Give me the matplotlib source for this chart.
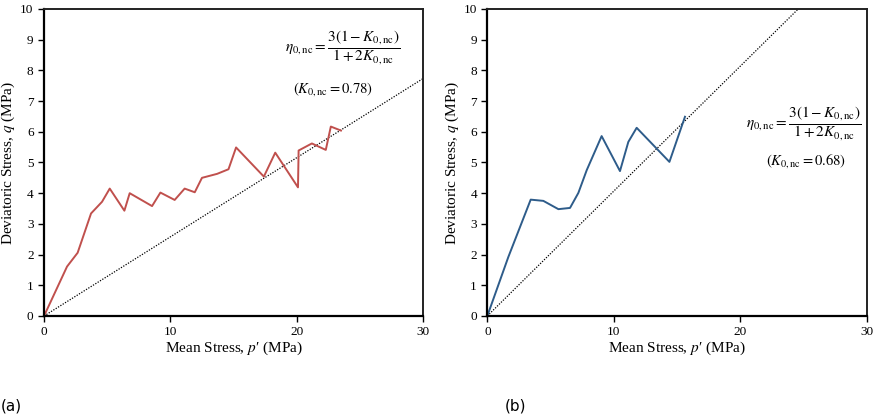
import matplotlib
matplotlib.use("Agg")
import matplotlib.pyplot as plt

plt.rcParams['font.family'] = ['Liberation Serif', 'DejaVu Serif']
plt.rcParams['mathtext.fontset'] = 'stix'

# (a) red path, K0,nc = 0.78
p_a = [0, 1.82, 2.66, 3.72, 4.59, 5.2, 6.36, 6.78, 8.55, 9.21, 10.34, 11.13, 11.93,
       12.5, 13.7, 14.6, 15.2, 17.4, 18.3, 20.1, 20.15, 21.2, 22.3, 22.7, 23.5]
q_a = [0, 1.61, 2.06, 3.34, 3.72, 4.15, 3.43, 4.0, 3.58, 4.02, 3.78, 4.15, 4.03,
       4.5, 4.63, 4.78, 5.49, 4.54, 5.32, 4.19, 5.39, 5.62, 5.41, 6.17, 6.04]
K_a = 0.78

# (b) blue path, K0,nc = 0.68
p_b = [0, 1.66, 3.43, 4.43, 5.62, 6.54, 7.2, 7.86, 9.04, 10.49, 11.15, 11.81, 14.4, 15.63]
q_b = [0, 1.92, 3.79, 3.75, 3.48, 3.52, 4.01, 4.75, 5.86, 4.72, 5.67, 6.13, 5.02, 6.49]
K_b = 0.68

eta_txt = r'$\eta_{0,\mathrm{nc}} = \dfrac{3\left(1 - K_{0,\mathrm{nc}}\right)}{1 + 2K_{0,\mathrm{nc}}}$'

fig = plt.figure(figsize=(8.79, 4.16), dpi=100)
ax1 = fig.add_axes([0.0501, 0.2404, 0.4312, 0.738])
ax2 = fig.add_axes([0.5544, 0.2404, 0.4316, 0.738])


def setup(ax, p, q, K, col, eta_pos, k_pos):
    eta = 3 * (1 - K) / (1 + 2 * K)
    ax.plot([0, 30], [0, 30 * eta], ls=(0, (1, 1.2)), color='black', lw=0.9)
    ax.plot(p, q, color=col, lw=1.4)
    ax.set_xlim(0, 30)
    ax.set_ylim(0, 10)
    ax.set_xticks([0, 10, 20, 30])
    ax.set_yticks(range(0, 11))
    ax.tick_params(direction='out', length=4, labelsize=9.5, width=1)
    for s in ['left', 'bottom']:
        ax.spines[s].set_linewidth(1.6)
    for s in ['top', 'right']:
        ax.spines[s].set_linewidth(1.4)
        ax.spines[s].set_color('#222222')
    ax.set_xlabel("Mean Stress, $p$\u2032 (MPa)", fontsize=11, labelpad=1)
    ax.set_ylabel(r"Deviatoric Stress, $q$ (MPa)", fontsize=11, labelpad=2)
    ax.text(eta_pos[0], eta_pos[1], eta_txt, fontsize=11, ha='center', va='center')
    ax.text(k_pos[0], k_pos[1], r'$(K_{0,\mathrm{nc}} = %.2f)$' % K,
            fontsize=10.5, ha='center', va='center')


setup(ax1, p_a, q_a, K_a, '#c0504d', (23.6, 8.75), (22.9, 7.4))
setup(ax2, p_b, q_b, K_b, '#2e5c8a', (25.0, 6.3), (25.2, 5.05))

fig.text(0.001, 0.025, '(a)', fontsize=11, family='DejaVu Sans', ha='left', va='center')
fig.text(0.574, 0.025, '(b)', fontsize=11, family='DejaVu Sans', ha='left', va='center')

fig.savefig('out.png', dpi=100)
